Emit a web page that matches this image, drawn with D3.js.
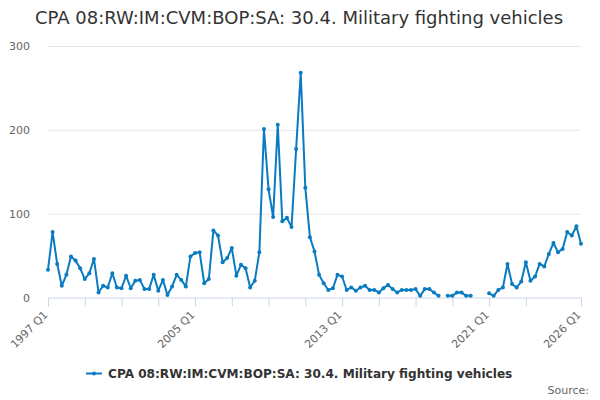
<!DOCTYPE html>
<html>
<head>
<meta charset="utf-8">
<script src="https://cdn.jsdelivr.net/npm/d3@7"></script>
<style>
  body { margin: 0; background: #fff; }
  svg { font-family: "DejaVu Sans", Verdana, sans-serif; }
</style>
</head>
<body>
<div id="chart"></div>
<script>
// chart size and plot area
const width = 600;
const height = 400;
const margin = {left: 48, right: 19, top: 46, bottom: 103};

const titleText = "CPA 08:RW:IM:CVM:BOP:SA: 30.4. Military fighting vehicles";
const seriesName = "CPA 08:RW:IM:CVM:BOP:SA: 30.4. Military fighting vehicles";

// quarterly categories, 1997 Q1 .. 2026 Q1
const firstYear = 1997;
const lastYear = 2026;
const categories = [];
for (let y = firstYear; y <= lastYear; y++) {
  for (let q = 1; q <= 4; q++) {
    if (y === lastYear && q > 1) break;
    categories.push(y + " Q" + q);
  }
}

// values (null = no data)
const values = [
  33, 78, 40, 14, 27, 49, 44, 35, 22, 29,
  46, 6, 14, 12, 29, 12, 11, 26, 11, 20,
  21, 10, 10, 27, 8, 21, 3, 13, 27, 21,
  13, 49, 53, 54, 17, 22, 80, 74, 42, 47,
  59, 26, 39, 35, 12, 20, 54, 201, 129, 96,
  206, 91, 95, 84, 177, 268, 131, 72, 55, 27,
  17, 9, 11, 27, 25, 9, 12, 8, 12, 14,
  9, 9, 6, 11, 15, 10, 6, 9, 9, 9,
  10, 2, 10, 10, 6, 2, null, 2, 2, 6,
  6, 2, 2, null, null, null, 5, 2, 9, 12,
  40, 16, 12, 19, 42, 20, 25, 40, 37, 52,
  65, 54, 58, 78, 74, 85, 64
];

// axis ticks
const yTicks = [0, 100, 200, 300];
const xTickCats = ["1997 Q1", "1999 Q1", "2001 Q1", "2003 Q1", "2005 Q1", "2007 Q1",
  "2009 Q1", "2011 Q1", "2013 Q1", "2015 Q1", "2017 Q1", "2019 Q1", "2021 Q1",
  "2023 Q1", "2026 Q1"];
const xLabelCats = ["1997 Q1", "2005 Q1", "2013 Q1", "2021 Q1", "2026 Q1"];

const lineColor = "#0a7bc0";

const data = categories.map((c, i) => ({cat: c, i: i, value: values[i]}));

const svg = d3.select("#chart")
  .append("svg")
  .attr("width", width)
  .attr("height", height);

// scales
const xScale = d3.scaleLinear()
  .domain([0, categories.length - 1])
  .range([margin.left, width - margin.right]);

const yScale = d3.scaleLinear()
  .domain([0, 300])
  .range([height - margin.bottom + 0.5, margin.top]);

// title
svg.append("text")
  .attr("x", width / 2 - 1)
  .attr("y", 24)
  .attr("text-anchor", "middle")
  .attr("font-size", "18px")
  .attr("fill", "#333333")
  .text(titleText);

// gridlines + y labels
const yAxis = d3.axisLeft(yScale)
  .tickValues(yTicks)
  .tickSize(-(width - margin.left - margin.right))
  .tickPadding(18);

svg.append("g")
  .attr("transform", `translate(${margin.left}, 0)`)
  .call(yAxis)
  .call(g => g.select(".domain").remove())
  .call(g => g.selectAll(".tick line").attr("stroke", "#e6e6e6"))
  .call(g => g.selectAll(".tick").filter(d => d === 0).select("line").remove())
  .call(g => g.selectAll(".tick text")
    .attr("fill", "#666666")
    .attr("font-size", "11px")
    .attr("font-family", "DejaVu Sans, sans-serif"));

// x axis
const xAxis = d3.axisBottom(xScale)
  .tickValues(xTickCats.map(c => categories.indexOf(c)))
  .tickSize(9)
  .tickFormat(i => xLabelCats.includes(categories[i]) ? categories[i] : "");

svg.append("g")
  .attr("transform", `translate(0, ${yScale(0)})`)
  .call(xAxis)
  .call(g => g.select(".domain").attr("stroke", "#ccd6eb"))
  .call(g => g.selectAll(".tick line").attr("stroke", "#ccd6eb"))
  .call(g => g.selectAll(".tick text")
    .attr("fill", "#666666")
    .attr("font-size", "11px")
    .attr("font-family", "DejaVu Sans, sans-serif")
    .attr("text-anchor", "end")
    .attr("y", 0)
    .attr("dy", "0")
    .attr("transform", "translate(0, 18) rotate(-45)"));

// line, broken where there is no value
const line = d3.line()
  .defined(d => d.value !== null)
  .x(d => xScale(d.i))
  .y(d => yScale(d.value));

svg.append("path")
  .datum(data)
  .attr("fill", "none")
  .attr("stroke", lineColor)
  .attr("stroke-width", 2)
  .attr("stroke-linejoin", "round")
  .attr("d", line);

svg.selectAll(".dot")
  .data(data.filter(d => d.value !== null))
  .enter()
  .append("circle")
    .attr("class", "dot")
    .attr("cx", d => xScale(d.i))
    .attr("cy", d => yScale(d.value))
    .attr("r", 2)
    .attr("fill", lineColor);

// legend
const legend = svg.append("g").attr("transform", "translate(86, 373.5)");
legend.append("line")
  .attr("x1", 0).attr("x2", 16)
  .attr("stroke", lineColor)
  .attr("stroke-width", 2);
legend.append("circle")
  .attr("cx", 8).attr("r", 2)
  .attr("fill", lineColor);
legend.append("text")
  .attr("x", 22)
  .attr("y", 4.5)
  .attr("font-size", "12.1px")
  .attr("font-weight", "bold")
  .attr("fill", "#333333")
  .text(seriesName);

// credits
svg.append("text")
  .attr("x", 589)
  .attr("y", 394)
  .attr("text-anchor", "end")
  .attr("font-size", "11px")
  .attr("fill", "#666666")
  .text("Source:");
</script>
</body>
</html>
